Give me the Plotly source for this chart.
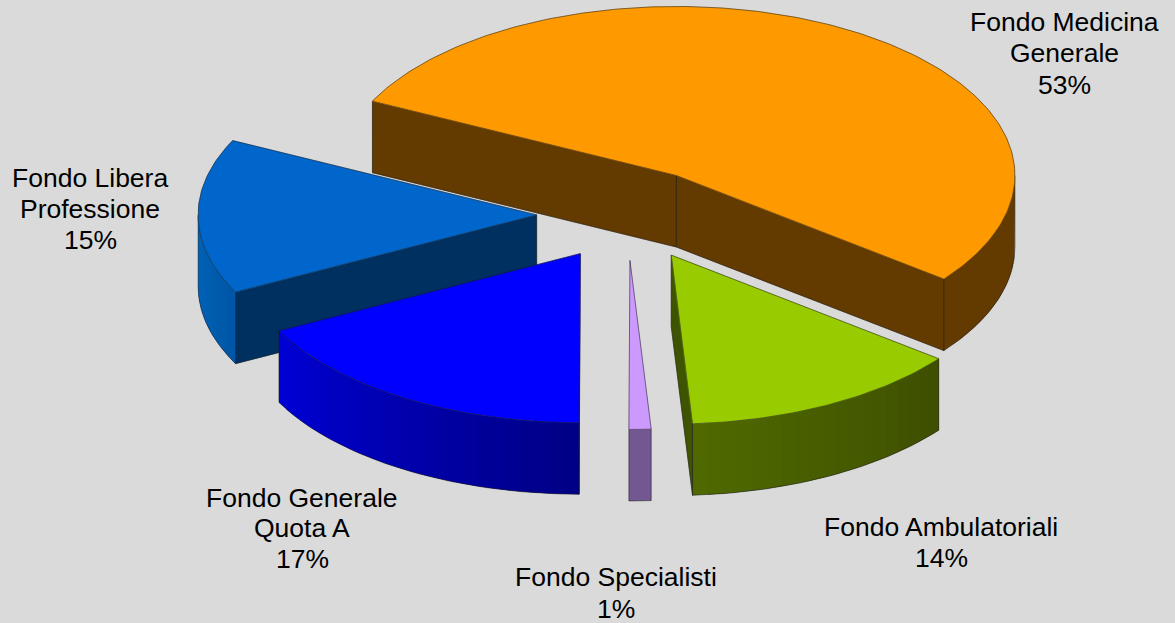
import math
import plotly.graph_objects as go

# --- data ---
categories = ["Fondo Medicina Generale", "Fondo Ambulatoriali", "Fondo Specialisti",
              "Fondo Generale Quota A", "Fondo Libera Professione"]
values = [53.25, 13.5, 1.05, 17.4, 14.8]
top_colors = ["#ff9900", "#99cc00", "#cc99ff", "#0000ff", "#0066cc"]
radial_colors = ["#633a00", "#3f5400", "#735791", "#00008c", "#003060"]
wall_left = ["#633a00", "#4f6a00", "#735791", "#0000d6", "#0066bb"]
wall_right = ["#633a00", "#3e4e00", "#735791", "#000084", "#0056a6"]
nudge_x = [-0.5, 0, -1, 0, 0.5]
draw_order = [0, 4, 3, 2, 1]

label_lines = ["Fondo Medicina", "Generale", "53%", "Fondo Libera", "Professione", "15%",
               "Fondo Generale", "Quota A", "17%", "Fondo Ambulatoriali", "14%",
               "Fondo Specialisti", "1%"]
label_x = [1064, 1064, 1064, 90, 90, 90, 302, 302, 302, 941, 941, 616, 616]
label_y = [21.5, 52.5, 84.5, 177.5, 209, 240, 498, 528, 559, 527, 558, 577, 609]

# --- pie geometry (pixels of the plot area) ---
CX, CY, RX, RY = 628.2, 214.5, 338.5, 169
DEPTH, EXPLODE = 71.5, 0.272
START = 153.9
BG = "#dadada"
EDGE = "rgba(30,30,30,0.55)"


def hex_mix(c1, c2, f):
    a = [int(c1[i:i + 2], 16) for i in (1, 3, 5)]
    b = [int(c2[i:i + 2], 16) for i in (1, 3, 5)]
    return "#%02x%02x%02x" % tuple(round(p + (q - p) * f) for p, q in zip(a, b))


def pt(cx, cy, t, d=0):
    r = math.radians(t)
    return cx + RX * math.cos(r), cy - RY * math.sin(r) + d


def poly(fig, pts, fill, width=0.5):
    xs = [p[0] for p in pts] + [pts[0][0]]
    ys = [p[1] for p in pts] + [pts[0][1]]
    fig.add_trace(go.Scatter(x=xs, y=ys, mode="lines", fill="toself", fillcolor=fill,
                             line=dict(color=fill, width=width),
                             hoverinfo="skip", showlegend=False))


def edge(fig, pts):
    fig.add_trace(go.Scatter(x=[p[0] for p in pts], y=[p[1] for p in pts], mode="lines",
                             line=dict(color=EDGE, width=1), hoverinfo="skip", showlegend=False))


fig = go.Figure()
total = sum(values)
bounds = []
a = START
for v in values:
    b = a - v / total * 360
    bounds.append((a, b))
    a = b

for i in draw_order:
    t0, t1 = bounds[i]
    mid = math.radians((t0 + t1) / 2)
    cx = CX + EXPLODE * RX * math.cos(mid) + nudge_x[i]
    cy = CY - EXPLODE * RY * math.sin(mid)
    apex, base = (cx, cy), (cx, cy + DEPTH)

    # radial walls, visible when they face the viewer
    for t, visible in ((t0, math.cos(math.radians(t0)) < -1e-3),
                       (t1, math.cos(math.radians(t1)) > 1e-3)):
        if visible:
            p, q = pt(cx, cy, t), pt(cx, cy, t, DEPTH)
            poly(fig, [apex, p, q, base], radial_colors[i])
            edge(fig, [p, q, base, apex])

    # outer wall: only the part on the lower half of the ellipse, shaded in strips
    lo, hi = (-180, t0) if t1 < -180 else (max(t1, -180), min(t0, 0))
    if hi > lo:
        n = max(1, int((hi - lo) / 2.5))
        for k in range(n):
            s0 = lo + (hi - lo) * k / n
            ext = hi if k == n - 1 else lo + (hi - lo) * (k + 2) / n
            # each strip runs under the next one so that no seam shows
            strip = [pt(cx, cy, s0 + (ext - s0) * j / 6) for j in range(7)]
            strip += [pt(cx, cy, s0 + (ext - s0) * j / 6, DEPTH) for j in range(6, -1, -1)]
            poly(fig, strip, hex_mix(wall_left[i], wall_right[i], (k + 0.5) / n), width=0)
        edge(fig, [pt(cx, cy, lo + (hi - lo) * k / 60, DEPTH) for k in range(61)])
        edge(fig, [pt(cx, cy, hi), pt(cx, cy, hi, DEPTH)])
        edge(fig, [pt(cx, cy, lo), pt(cx, cy, lo, DEPTH)])

    # top face
    n = max(4, int(abs(t0 - t1)))
    arc = [pt(cx, cy, t0 + (t1 - t0) * k / n) for k in range(n + 1)]
    poly(fig, [apex] + arc, top_colors[i])
    edge(fig, [apex] + arc + [apex])

for txt, x, y in zip(label_lines, label_x, label_y):
    fig.add_annotation(x=x, y=y, text=txt, showarrow=False, xanchor="center", yanchor="middle",
                       font=dict(family="Liberation Sans, Arial, sans-serif", size=26.5, color="#000000"))

fig.update_layout(
    width=1175, height=623, margin=dict(l=0, r=0, t=0, b=0),
    paper_bgcolor=BG, plot_bgcolor=BG, showlegend=False,
    xaxis=dict(range=[0, 1175], visible=False, fixedrange=True),
    yaxis=dict(range=[623, 0], visible=False, fixedrange=True),
)
fig.write_html("out.html", config=dict(displayModeBar=False),
               post_script="document.body.style.margin='0';document.body.style.overflow='hidden';"
                           "document.body.style.background='%s';" % BG)
